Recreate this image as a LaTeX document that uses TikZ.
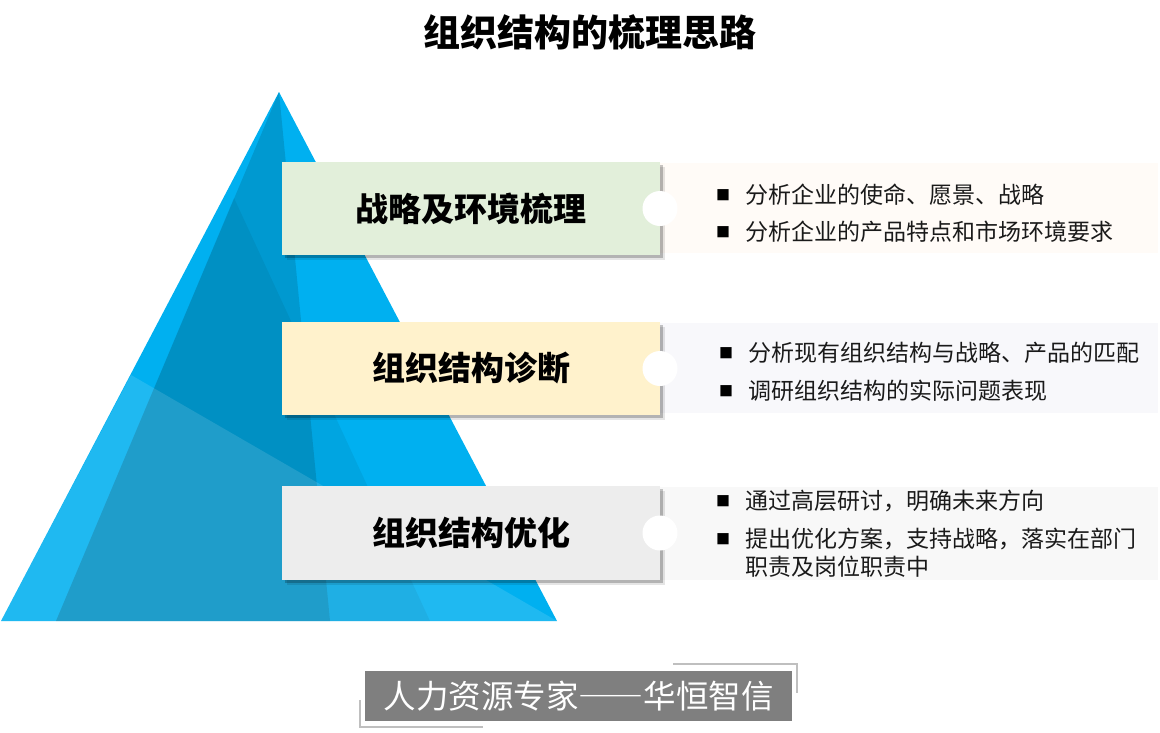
\documentclass[tikz,border=0pt]{standalone}
\usepackage{fontspec}
\setmainfont{Noto Sans CJK SC}
\usetikzlibrary{shadows}
\definecolor{pyrbase}{HTML}{00B0F0}
\definecolor{boxgreen}{HTML}{E2EFDA}
\definecolor{boxyellow}{HTML}{FFF2CC}
\definecolor{boxgray}{HTML}{EDEDED}
\definecolor{panelA}{HTML}{FFFBF7}
\definecolor{panelB}{HTML}{F8F8FB}
\definecolor{panelC}{HTML}{F8F8F8}
\definecolor{foot}{HTML}{7F7F7F}
\definecolor{footline}{HTML}{BFBFBF}
\definecolor{txt}{HTML}{1A1A1A}
\tikzset{
  stagebox/.style={draw=none, inner sep=0pt, outer sep=0pt,
    minimum width=378pt, minimum height=93pt,
    font=\fontsize{33}{38}\selectfont\bfseries, text=black,
    drop shadow={shadow xshift=5pt, shadow yshift=-5pt, fill=black, opacity=0.10},
    drop shadow={shadow xshift=3pt, shadow yshift=-3pt, fill=black, opacity=0.22}},
  panelbox/.style={draw=none, inner sep=0pt, outer sep=0pt, minimum width=498pt},
  knob/.style={circle, fill=white, draw=none, minimum size=35pt, inner sep=0pt},
  bul/.style={font=\fontsize{14}{14}\selectfont, text=black, inner sep=0pt},
  itemtxt/.style={anchor=west, inner sep=0pt, align=left,
    font=\fontsize{23}{28}\selectfont, text=txt},
}
\begin{document}
\begin{tikzpicture}[x=1pt,y=-1pt]
\useasboundingbox (0,0) rectangle (1160,732);
% title
\node[font=\fontsize{37}{42}\selectfont\bfseries] (title) at (590,32) {组织结构的梳理思路};
% pyramid
\coordinate (A) at (279,92);
\coordinate (BL) at (1,621);
\coordinate (BR) at (557,621);
\coordinate (P2) at (56,621);
\coordinate (P1) at (330,621);
\coordinate (Q) at (234,198);
\coordinate (P3) at (430,621);
\coordinate (E) at (131,375);
\fill[pyrbase] (A) -- (BL) -- (BR) -- cycle;
\fill[black, opacity=0.13] (A) -- (P2) -- (P1) -- cycle;
\fill[black, opacity=0.06] (Q) -- (P2) -- (P3) -- cycle;
\fill[white, opacity=0.12] (E) -- (BL) -- (BR) -- cycle;
% panels
\node[panelbox, fill=panelA, minimum height=90pt] (p1) at (909,208) {};
\node[panelbox, fill=panelB, minimum height=90pt] (p2) at (909,368) {};
\node[panelbox, fill=panelC, minimum height=93pt] (p3) at (909,533.5) {};
% stage boxes
\node[stagebox, fill=boxgreen] (b1) at (471,208.5) {战略及环境梳理};
\node[stagebox, fill=boxyellow] (b2) at (471,368.5) {组织结构诊断};
\node[stagebox, fill=boxgray, minimum height=94pt] (b3) at (471,533) {组织结构优化};
% knobs
\node[knob] (c1) at (660,208.5) {};
\node[knob] (c2) at (660,368.5) {};
\node[knob] (c3) at (660,533) {};
% items
\node[bul] (s11) at (723,195) {■};
\node[itemtxt] (t11) at (745,195) {分析企业的使命、愿景、战略};
\node[bul] (s12) at (723,232) {■};
\node[itemtxt] (t12) at (745,232) {分析企业的产品特点和市场环境要求};
\node[bul] (s21) at (726,353) {■};
\node[itemtxt] (t21) at (748,353) {分析现有组织结构与战略、产品的匹配};
\node[bul] (s22) at (726,391) {■};
\node[itemtxt] (t22) at (748,391) {调研组织结构的实际问题表现};
\node[bul] (s31) at (723,501) {■};
\node[itemtxt] (t31) at (745,501) {通过高层研讨，明确未来方向};
\node[bul] (s32) at (723,539) {■};
\node[itemtxt] (t32) at (745,553) {提出优化方案，支持战略，落实在部门\\职责及岗位职责中};
% footer
\node[fill=foot, inner sep=0pt, minimum width=427pt, minimum height=50pt,
  text=white, font=\fontsize{32.5}{36}\selectfont] (ft) at (578.5,696)
  {人力资源专家{\addfontfeature{RawFeature=+fwid}——}华恒智信};
\draw[footline, line width=1.5pt] (673,664) -- (797,664) -- (797,693);
\draw[footline, line width=1.5pt] (360,700) -- (360,727) -- (483,727);
\end{tikzpicture}
\end{document}
